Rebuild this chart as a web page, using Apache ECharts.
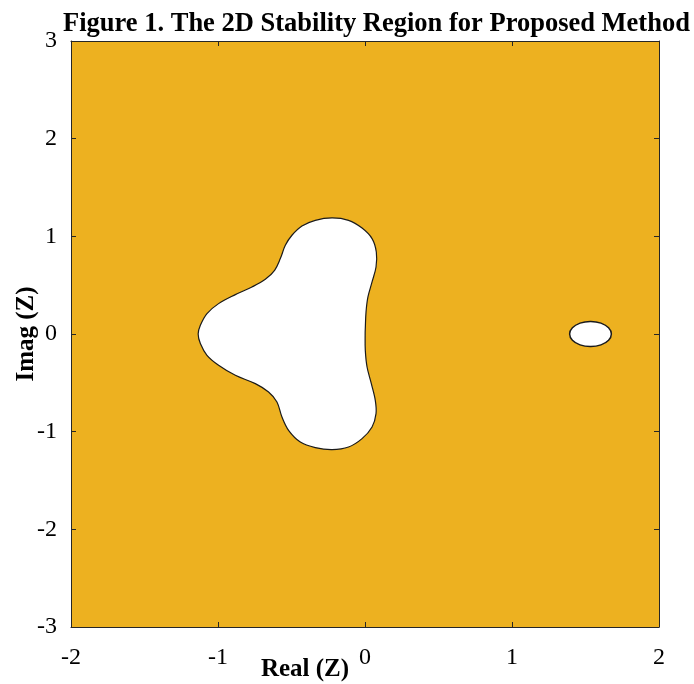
<!DOCTYPE html>
<html>
<head>
<meta charset="utf-8">
<script src="https://cdn.jsdelivr.net/npm/echarts@6/dist/echarts.min.js"></script>
<style>html,body{margin:0;padding:0;background:#fff;}#chart{width:694px;height:684px;}</style>
</head>
<body>
<div id="chart"></div>
<script>
const chartTitle = 'Figure 1. The 2D Stability Region for Proposed Method';
const xAxisLabel = 'Real (Z)';
const yAxisLabel = 'Imag (Z)';
const xRange = [-2, 2];
const yRange = [-3, 3];

// Boundary of the large unstable (white) region
const mainBlobX = [-1.135, -1.120, -1.075, -0.996, -0.882, -0.769, -0.678, -0.615, -0.576, -0.542, -0.497, -0.429, -0.338, -0.224, -0.112, -0.020, 0.048, 0.077, 0.075, 0.048, 0.020, 0.007, 0.002, 0.001, 0.002, 0.014, 0.043, 0.070, 0.075, 0.048, -0.020, -0.112, -0.224, -0.338, -0.440, -0.520, -0.565, -0.599, -0.656, -0.746, -0.882, -0.996, -1.075, -1.120];
const mainBlobY = [0.000, 0.089, 0.209, 0.311, 0.403, 0.481, 0.560, 0.652, 0.772, 0.908, 1.011, 1.106, 1.164, 1.188, 1.164, 1.085, 0.977, 0.840, 0.686, 0.533, 0.379, 0.225, 0.055, 0.000, -0.167, -0.338, -0.508, -0.679, -0.815, -0.952, -1.071, -1.157, -1.184, -1.163, -1.106, -0.986, -0.850, -0.696, -0.594, -0.508, -0.423, -0.320, -0.218, -0.098];

// Boundary of the small unstable (white) oval
const smallOvalX = [1.676, 1.657, 1.605, 1.534, 1.463, 1.411, 1.392, 1.411, 1.463, 1.534, 1.605, 1.657];
const smallOvalY = [0.000, 0.064, 0.111, 0.128, 0.111, 0.064, 0.000, -0.064, -0.111, -0.128, -0.111, -0.064];

const regionColor = '#EDB120';
const serif = '"Liberation Serif", "Times New Roman", serif';

function toPoints(xs, ys) { return xs.map((x, i) => [x, ys[i]]); }

function shapeSeries(name, pts, smooth, lw) {
  return {
    type: 'custom',
    name: name,
    xAxisIndex: 0, yAxisIndex: 0,
    data: pts,
    clip: true,
    silent: true,
    renderItem: function (params, api) {
      if (params.dataIndex !== 0) return null;
      const coords = pts.map(p => api.coord(p));
      return {
        type: 'polygon',
        shape: { points: coords, smooth: smooth },
        style: { fill: '#ffffff', stroke: '#1a1a1a', lineWidth: lw }
      };
    }
  };
}

const axisLineStyle = { color: '#262626', width: 1 };
const chart = echarts.init(document.getElementById('chart'));
chart.setOption({
  animation: false,
  backgroundColor: '#ffffff',
  grid: { left: 71, top: 41, width: 588, height: 586, containLabel: false, outerBoundsMode: 'none',
          show: true, backgroundColor: regionColor, borderWidth: 0 },
  graphic: [
    { type: 'text', x: 63, y: 11, style: { text: chartTitle, font: 'bold 26.5px ' + serif, fill: '#000', align: 'left', verticalAlign: 'top' } },
    { type: 'text', x: 305, y: 670, style: { text: xAxisLabel, font: 'bold 25px ' + serif, fill: '#000', align: 'center', verticalAlign: 'middle' } },
    { type: 'text', x: 27, y: 334, rotation: Math.PI / 2, style: { text: yAxisLabel, font: 'bold 25px ' + serif, fill: '#000', align: 'center', verticalAlign: 'middle' } }
  ],
  xAxis: [
    { type: 'value', min: xRange[0], max: xRange[1], interval: 1, position: 'bottom',
      axisLine: { show: true, onZero: false, lineStyle: axisLineStyle },
      axisTick: { show: true, inside: true, length: 5, lineStyle: axisLineStyle },
      axisLabel: { color: '#000', fontFamily: serif, fontSize: 24, margin: 19 },
      splitLine: { show: false } },
    { type: 'value', min: xRange[0], max: xRange[1], interval: 1, position: 'top',
      axisLine: { show: true, onZero: false, lineStyle: axisLineStyle },
      axisTick: { show: true, inside: true, length: 5, lineStyle: axisLineStyle },
      axisLabel: { show: false }, splitLine: { show: false } }
  ],
  yAxis: [
    { type: 'value', min: yRange[0], max: yRange[1], interval: 1, position: 'left',
      axisLine: { show: true, onZero: false, lineStyle: axisLineStyle },
      axisTick: { show: true, inside: true, length: 5, lineStyle: axisLineStyle },
      axisLabel: { color: '#000', fontFamily: serif, fontSize: 24, margin: 14 },
      splitLine: { show: false } },
    { type: 'value', min: yRange[0], max: yRange[1], interval: 1, position: 'right',
      axisLine: { show: true, onZero: false, lineStyle: axisLineStyle },
      axisTick: { show: true, inside: true, length: 5, lineStyle: axisLineStyle },
      axisLabel: { show: false }, splitLine: { show: false } }
  ],
  series: [
    shapeSeries('main', toPoints(mainBlobX, mainBlobY), 0.35, 1.2),
    shapeSeries('oval', toPoints(smallOvalX, smallOvalY), 0.5, 1.5)
  ]
});
</script>
</body>
</html>
